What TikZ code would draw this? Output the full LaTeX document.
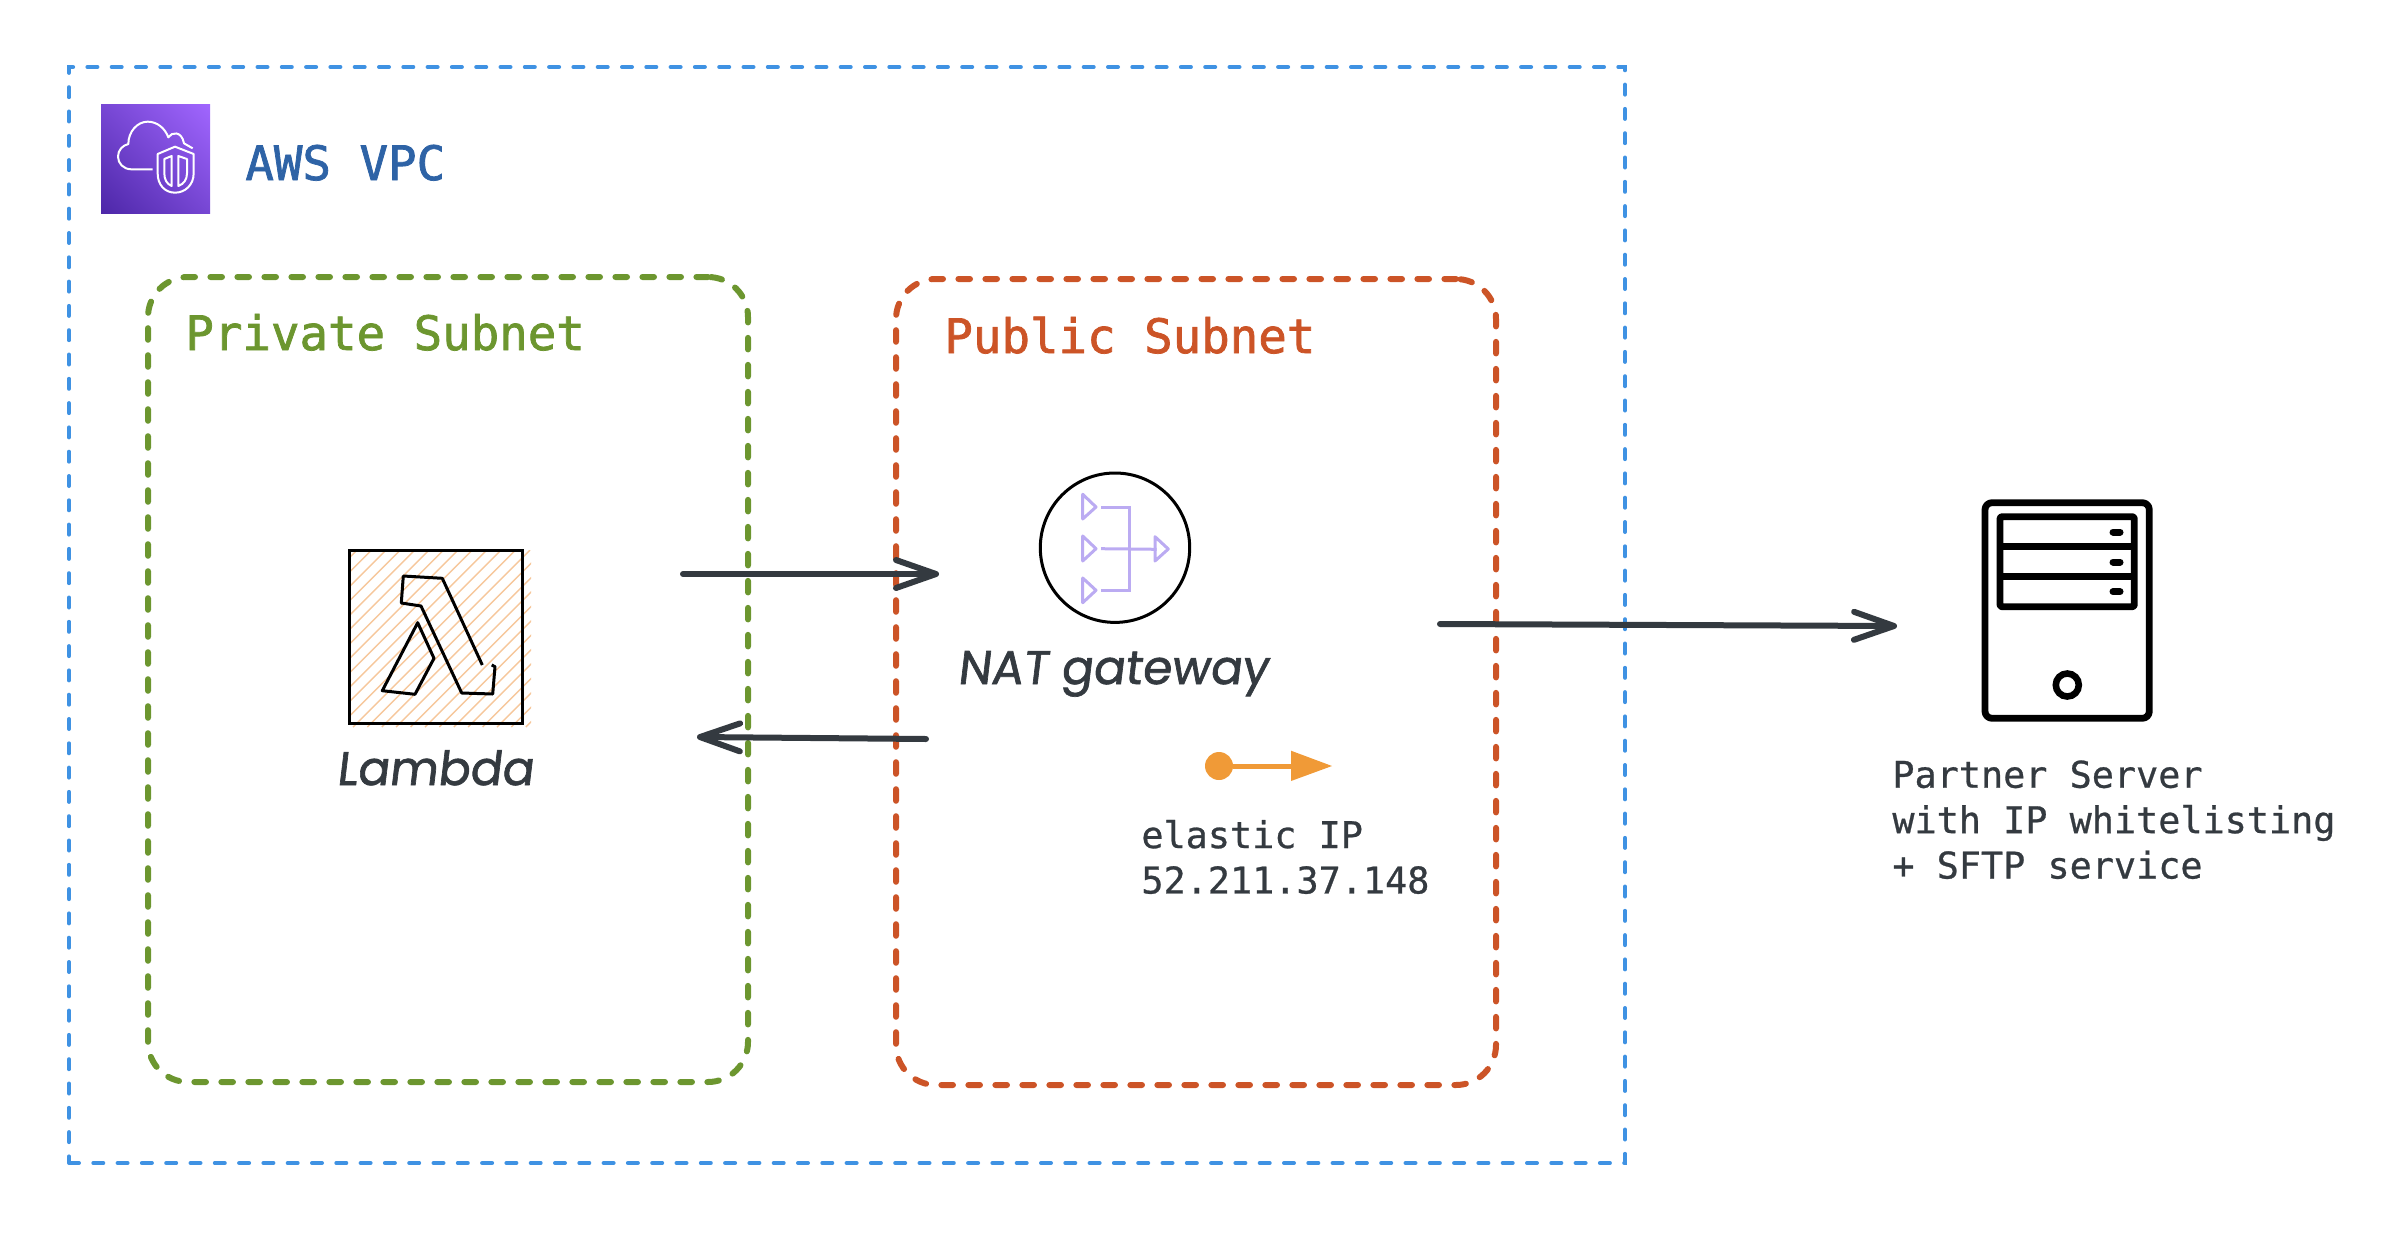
\documentclass[tikz,border=0pt]{standalone}
\usepackage{fontspec}
\usetikzlibrary{arrows.meta,shadings}
\newfontfamily\monof[FakeBold=0.7]{DejaVu Sans Mono}
\newfontfamily\monobig[FakeBold=1.6]{DejaVu Sans Mono}
\newfontfamily\handf[FakeSlant=0.12,FakeBold=1.4]{Poppins}
\definecolor{vpcblue}{HTML}{3F92E3}
\definecolor{subgreen}{HTML}{6C962F}
\definecolor{suborange}{HTML}{CC5427}
\definecolor{inkdark}{HTML}{343A40}
\definecolor{titleblue}{HTML}{2E63A6}
\definecolor{natpurple}{HTML}{BBABF2}
\definecolor{eipor}{HTML}{F09A37}
\definecolor{hatchor}{HTML}{F6C79B}
\definecolor{icolow}{HTML}{4D27A8}
\definecolor{icohigh}{HTML}{A166FF}
\definecolor{icomid}{HTML}{7747D4}
\tikzset{
  vpcbox/.style={draw=vpcblue,line width=2pt,line cap=round,dash pattern=on 5pt off 7.15pt,inner sep=0,minimum width=778pt,minimum height=548pt},
  subbox/.style={line width=3pt,line cap=round,dash pattern=on 5.8pt off 7.7pt,rounded corners=20pt,inner sep=0,minimum width=300pt},
  bigtext/.style={anchor=base west,inner sep=0,font=\monobig\fontsize{23.7}{28}\selectfont},
  smalltext/.style={anchor=north west,inner sep=0,align=left,text=inkdark,font=\monof\fontsize{18.4}{22.7}\selectfont},
  handtext/.style={anchor=base west,inner sep=0,text=inkdark,font=\handf\fontsize{23.6}{26}\selectfont},
  flowarrow/.style={draw=inkdark,line width=3pt,line cap=round,-{Straight Barb[length=20pt,width=14pt,round]}},
  natline/.style={draw=natpurple,line width=1.5pt},
  iconline/.style={draw=white,line width=1pt,line join=round},
  srv/.style={draw=black,line width=3.4pt,line join=round}
}
\begin{document}
\begin{tikzpicture}[x=0.5pt,y=-0.5pt]
\useasboundingbox (0,0) rectangle (2394,1232);
% containers
\node[vpcbox] (vpc) at (847,615) {};
\node[subbox,draw=subgreen,minimum height=402.5pt] (private) at (448,679.5) {};
\node[subbox,draw=suborange,minimum height=403pt] (public) at (1196,682) {};
% AWS icon
\shade[lower left=icolow,upper right=icohigh,upper left=icomid,lower right=icomid] (101,104) rectangle (210,213);
\begin{scope}[shift={(60,60)},x=0.1666667pt,y=-0.1666667pt]
\draw[iconline] (278,328) -- (215,328) .. controls (190,328) and (174,310) .. (174,290) .. controls (174,270) and (188,256) .. (205,252) .. controls (205,215) and (232,185) .. (263,185) .. controls (292,185) and (315,205) .. (325,232) .. controls (335,215) and (365,212) .. (372,250) -- (398,265);
\draw[iconline] (293,282) -- (345,260) -- (401,282) -- (401,340) .. controls (401,375) and (375,398) .. (345,398) .. controls (315,398) and (293,375) .. (293,340) -- cycle;
\draw[iconline] (313,297) -- (335,288) -- (335,378) .. controls (320,372) and (313,358) .. (313,340) -- cycle;
\draw[iconline] (355,288) -- (381,297) -- (381,340) .. controls (381,358) and (372,372) .. (355,378) -- cycle;
\end{scope}
% titles
\node[bigtext,text=titleblue] (vpctitle) at (245,180) {AWS VPC};
\node[bigtext,text=subgreen] (privtitle) at (185,350) {Private Subnet};
\node[bigtext,text=suborange] (pubtitle) at (944,353) {Public Subnet};
% lambda
\begin{scope}
\clip (349,550) rectangle (531,727);
\foreach \k in {-13,...,12}
  \draw[hatchor,line width=0.7pt] ({353+14.4*\k},727) -- ({353+14.4*\k+177},550);
\end{scope}
\node[draw=black,line width=1.5pt,inner sep=0,minimum size=86.5pt] (lambda) at (435.5,636.5) {};
\draw[black,line width=1.5pt,line join=round] (482.3,665) -- (442.3,578.3) -- (403.3,576) -- (401.3,603) -- (421,606) -- (461.7,693) -- (492.7,694) -- (495,666.7) -- (491.7,665);
\draw[black,line width=1.5pt,line join=round] (417.7,622.7) -- (434,658.3) -- (415,694.3) -- (382.3,690.7) -- cycle;
\node[handtext] (lambdalabel) at (336,785) {Lambda};
% NAT
\node[draw=black,line width=1.5pt,circle,inner sep=0,minimum size=74.7pt] (nat) at (1115,547.7) {};
\draw[natline,line join=round] (1082.7,494.3) -- (1096,507) -- (1082.7,519) -- cycle;
\draw[natline,line join=round] (1082.7,536) -- (1096,548.7) -- (1082.7,561) -- cycle;
\draw[natline,line join=round] (1082.7,578) -- (1096,590.3) -- (1082.7,602.7) -- cycle;
\draw[natline,line join=round] (1155,536.7) -- (1168.3,549) -- (1155,561) -- cycle;
\draw[natline] (1101,507) -- (1129.3,507) -- (1129.3,590.3) -- (1101,590.3);
\draw[natline] (1101,548.7) -- (1156.7,549.3);
\node[handtext] (natlabel) at (957,684) {NAT gateway};
% elastic ip
\node[circle,fill=eipor,inner sep=0,minimum size=14pt] (eipdot) at (1219,766) {};
\coordinate (eipend) at (1296,766);
\draw[eipor,line width=2.5pt] (eipdot) -- (eipend);
\fill[eipor] (1291,750.7) -- (1332,766) -- (1291,781) -- cycle;
\node[smalltext] (eip) at (1141,819.5) {elastic IP\\52.211.37.148};
% server
\draw[srv,rounded corners=3.5pt] (1985,502.7) rectangle (2149.3,718.3);
\draw[srv,rounded corners=1pt] (2000,516.7) rectangle (2134.3,606.7);
\draw[srv] (2000,546.7) -- (2134.3,546.7) (2000,576.7) -- (2134.3,576.7);
\draw[srv,line cap=round,line width=3.5pt] (2113,532) -- (2120,532) (2113,562) -- (2120,562) (2113,591.7) -- (2120,591.7);
\node[draw=black,line width=3.3pt,circle,inner sep=0,minimum size=11.5pt] (partner) at (2067.3,685) {};
\node[smalltext] (partnerlabel) at (1892,760) {Partner Server\\with IP whitelisting\\+ SFTP service};
% connectors
\coordinate (lamout) at (683,574);
\coordinate (natin) at (939,574);
\coordinate (natback) at (926,739);
\coordinate (lamin) at (697,737);
\coordinate (natout) at (1440,624);
\coordinate (srvin) at (1897,626);
\draw[flowarrow] (lamout) -- (natin);
\draw[flowarrow] (natback) -- (lamin);
\draw[flowarrow] (natout) -- (srvin);
\end{tikzpicture}
\end{document}
